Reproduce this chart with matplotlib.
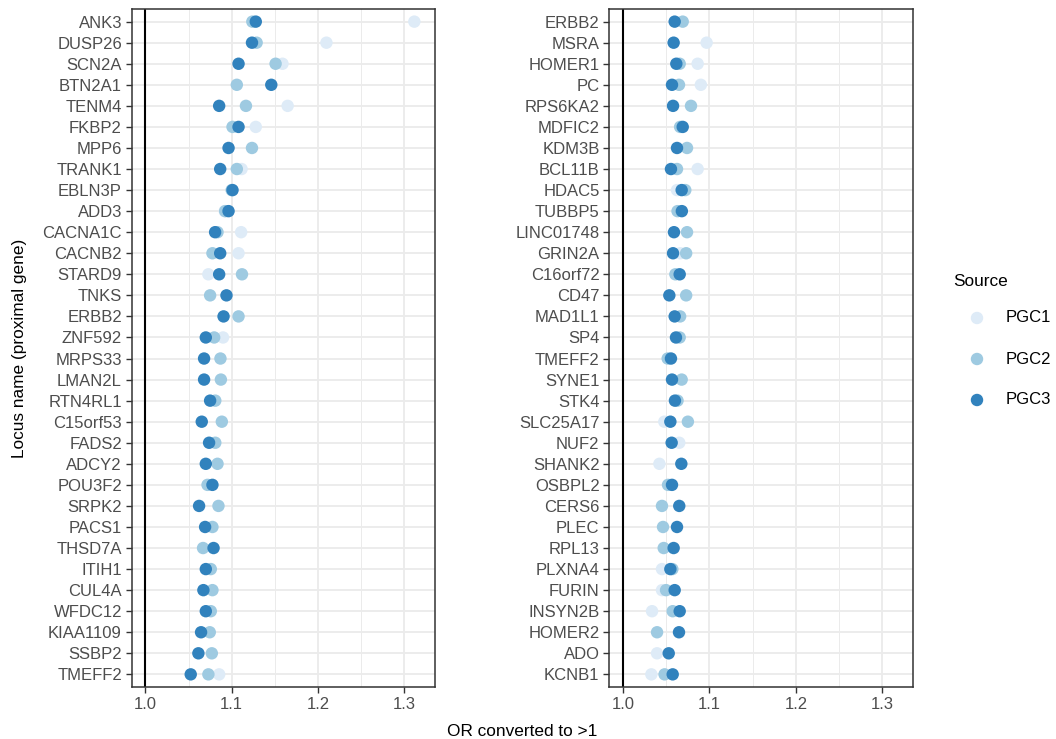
import numpy as np
import matplotlib
matplotlib.use("Agg")
import matplotlib.pyplot as plt

plt.rcParams['font.family'] = ['Liberation Sans', 'DejaVu Sans']

nan = np.nan

# ---- Left panel data ----
left_loci = ["ANK3", "DUSP26", "SCN2A", "BTN2A1", "TENM4", "FKBP2", "MPP6", "TRANK1",
             "EBLN3P", "ADD3", "CACNA1C", "CACNB2", "STARD9", "TNKS", "ERBB2", "ZNF592",
             "MRPS33", "LMAN2L", "RTN4RL1", "C15orf53", "FADS2", "ADCY2", "POU3F2", "SRPK2",
             "PACS1", "THSD7A", "ITIH1", "CUL4A", "WFDC12", "KIAA1109", "SSBP2", "TMEFF2"]
left_pgc1 = [1.312, 1.210, 1.159, nan, 1.165, 1.128, nan, 1.1115,
             nan, 1.092, 1.111, 1.108, 1.073, nan, nan, 1.090,
             nan, nan, nan, nan, nan, nan, nan, nan,
             nan, nan, nan, nan, nan, nan, nan, 1.0855]
left_pgc2 = [1.124, 1.129, 1.151, 1.106, 1.1166, 1.101, 1.1236, 1.106,
             1.100, 1.0925, 1.0836, 1.0777, 1.112, 1.075, 1.108, 1.0797,
             1.087, 1.0875, 1.081, 1.0886, 1.081, 1.0836, 1.072, 1.0847,
             1.0777, 1.0668, 1.0758, 1.0777, 1.0758, 1.0746, 1.077, 1.073]
left_pgc3 = [1.128, 1.1236, 1.108, 1.146, 1.0855, 1.108, 1.0964, 1.0867,
             1.101, 1.0964, 1.0808, 1.0867, 1.0855, 1.094, 1.0906, 1.070,
             1.068, 1.068, 1.075, 1.0653, 1.0738, 1.070, 1.0777, 1.0622,
             1.0692, 1.079, 1.070, 1.0672, 1.070, 1.0645, 1.0614, 1.0525]

# ---- Right panel data ----
right_loci = ["ERBB2", "MSRA", "HOMER1", "PC", "RPS6KA2", "MDFIC2", "KDM3B", "BCL11B",
              "HDAC5", "TUBBP5", "LINC01748", "GRIN2A", "C16orf72", "CD47", "MAD1L1", "SP4",
              "TMEFF2", "SYNE1", "STK4", "SLC25A17", "NUF2", "SHANK2", "OSBPL2", "CERS6",
              "PLEC", "RPL13", "PLXNA4", "FURIN", "INSYN2B", "HOMER2", "ADO", "KCNB1"]
right_pgc1 = [nan, 1.0967, 1.0863, 1.090, nan, nan, nan, 1.0863,
              1.0624, nan, nan, 1.066, nan, nan, nan, nan,
              nan, nan, nan, 1.0477, 1.065, 1.042, nan, nan,
              nan, nan, 1.045, 1.045, 1.0335, nan, 1.0393, 1.0327]
right_pgc2 = [1.069, nan, 1.0655, 1.0647, 1.0786, 1.066, 1.074, 1.0624,
              1.072, 1.063, 1.074, 1.073, 1.0605, 1.073, 1.066, 1.0655,
              1.0516, 1.0678, 1.063, 1.075, nan, nan, 1.052, 1.045,
              1.0462, 1.047, 1.057, 1.0497, 1.0574, 1.0393, nan, 1.048]
right_pgc3 = [1.0597, 1.0585, 1.0616, 1.0566, 1.0578, 1.069, 1.0624, 1.0554,
              1.0678, 1.068, 1.0589, 1.0578, 1.0655, 1.0535, 1.0597, 1.0612,
              1.0554, 1.0566, 1.060, 1.0547, 1.0562, 1.0674, 1.0566, 1.065,
              1.0624, 1.0585, 1.0547, 1.0597, 1.0655, 1.0647, 1.0528, 1.0574]

sources = ["PGC1", "PGC2", "PGC3"]
colors = ["#deebf7", "#9ecae1", "#3182bd"]
x_ticks = [1.0, 1.1, 1.2, 1.3]
x_minor = [1.05, 1.15, 1.25]

W, H = 1056, 739
fig = plt.figure(figsize=(W / 100, H / 100), dpi=100)

def px_axes(x0, x1, y0, y1):
    return fig.add_axes([x0 / W, 1 - y1 / H, (x1 - x0) / W, (y1 - y0) / H])

ax_l = px_axes(131.7, 435, 9, 687)
ax_r = px_axes(609.3, 913.3, 9, 687)

grid_col = "#ebebeb"
tick_fs = 12
for ax, loci, series in [(ax_l, left_loci, [left_pgc1, left_pgc2, left_pgc3]),
                         (ax_r, right_loci, [right_pgc1, right_pgc2, right_pgc3])]:
    n = len(loci)
    ypos = np.arange(n)[::-1]
    ax.set_xlim(0.984, 1.336)
    ax.set_ylim(-0.6, n - 1 + 0.6)
    for xm in x_minor:
        ax.axvline(xm, color=grid_col, lw=0.7, zorder=0)
    for xt in x_ticks:
        ax.axvline(xt, color=grid_col, lw=1.3, zorder=0)
    for y in ypos:
        ax.axhline(y, color=grid_col, lw=1.3, zorder=0)
    ax.axvline(1.0, color="black", lw=1.5, zorder=1)
    for vals, c in zip(series, colors):
        ax.scatter(vals, ypos, s=80, color=c, edgecolors="none", zorder=3)
    ax.set_yticks(ypos)
    ax.set_yticklabels(loci)
    ax.set_xticks(x_ticks)
    ax.set_xticklabels([f"{t:.1f}" for t in x_ticks])
    ax.tick_params(axis="both", length=4, width=1.0, color="#333333",
                   labelcolor="#4d4d4d", labelsize=tick_fs, pad=3)
    for sp in ax.spines.values():
        sp.set_color("#333333")
        sp.set_linewidth(1.1)

fig.text(522.5 / W, 1 - 731 / H, "OR converted to >1", ha="center", va="center",
         fontsize=12.4, color="black")
fig.text(20 / W, 1 - 348 / H, "Locus name (proximal gene)", ha="center", va="center",
         rotation=90, fontsize=12.4, color="black")

# Legend
fig.text(953 / W, 1 - 281 / H, "Source", ha="left", va="center", fontsize=12.4)
leg_ys = [318, 359, 400]
ax_leg = fig.add_axes([0, 0, 1, 1], facecolor="none")
ax_leg.set_xlim(0, W)
ax_leg.set_ylim(H, 0)
ax_leg.axis("off")
for lab, c, ly in zip(sources, colors, leg_ys):
    ax_leg.scatter([977], [ly], s=80, color=c, edgecolors="none")
    ax_leg.text(1006, ly, lab, ha="left", va="center", fontsize=12, color="black")

fig.savefig("out.png", dpi=100)
